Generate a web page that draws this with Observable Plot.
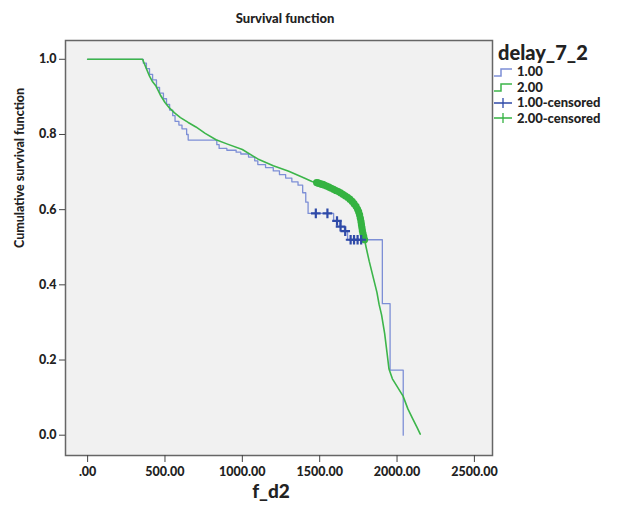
<!DOCTYPE html>
<html><head><meta charset="utf-8">
<script src="https://cdn.jsdelivr.net/npm/d3@7"></script>
<script src="https://cdn.jsdelivr.net/npm/@observablehq/plot@0.6"></script>
<style>
body{margin:0;background:#fff;font-family:Lato,sans-serif}
#wrap{position:relative;width:620px;height:512px}
#title{position:absolute;top:10px;left:0;width:570px;text-align:center;font-weight:900;font-size:13px;color:#222}
#legend{position:absolute;left:493px;top:40px;color:#222;font-weight:900}
#legend .head{font-size:20px;line-height:24px;margin-left:5px}
#legend .row{font-size:13px;line-height:15.5px;display:flex;align-items:center}
#legend svg{margin-right:4px}
#chart{position:absolute;left:0;top:0}
</style></head><body>
<div id="wrap"><div id="chart"></div><div id="title">Survival function</div><div id="legend"></div></div>
<script>
// ---- data ----
const xTicks = [0, 500, 1000, 1500, 2000, 2500];
const yTicks = [0, 0.2, 0.4, 0.6, 0.8, 1.0];
const groupNames = ["1.00", "2.00", "1.00-censored", "2.00-censored"];

const blueTimes = [0, 360, 380, 400, 420, 445, 465, 490, 510, 530, 550, 565, 590, 610, 640, 650, 835, 850, 900, 960, 990, 1040, 1080, 1100, 1150, 1200, 1240, 1280, 1320, 1360, 1390, 1410, 1425, 1590, 1630, 1660, 1680, 1905, 1955, 2040];
const blueSurv  = [1.0, 0.99, 0.975, 0.96, 0.945, 0.925, 0.91, 0.895, 0.88, 0.865, 0.85, 0.835, 0.825, 0.815, 0.80, 0.785, 0.773, 0.763, 0.758, 0.753, 0.748, 0.74, 0.73, 0.72, 0.712, 0.703, 0.693, 0.684, 0.674, 0.665, 0.645, 0.62, 0.59, 0.57, 0.555, 0.543, 0.52, 0.35, 0.173, 0.0];

const greenTimes = [0, 355, 380, 400, 420, 443, 470, 500, 530, 560, 600, 650, 700, 760, 830, 900, 1000, 1100, 1200, 1300, 1400, 1450, 1480, 1500, 1550, 1600, 1650, 1700, 1735, 1755, 1767, 1776, 1790, 1800, 1820, 1852, 1870, 1884, 1900, 1920, 1935, 1948, 1970, 2000, 2039, 2070, 2100, 2130, 2150];
const greenSurv  = [1.0, 1.0, 0.975, 0.955, 0.94, 0.928, 0.905, 0.885, 0.87, 0.858, 0.845, 0.832, 0.82, 0.803, 0.786, 0.775, 0.76, 0.735, 0.717, 0.702, 0.684, 0.675, 0.672, 0.669, 0.662, 0.652, 0.641, 0.626, 0.609, 0.59, 0.568, 0.544, 0.52, 0.5, 0.463, 0.41, 0.38, 0.348, 0.32, 0.27, 0.22, 0.176, 0.15, 0.13, 0.104, 0.07, 0.045, 0.02, 0.003];

const blueCensTimes = [1475, 1550, 1612, 1635, 1665, 1700, 1722, 1745, 1768];
const blueCensSurv  = [0.59, 0.59, 0.57, 0.555, 0.543, 0.52, 0.52, 0.52, 0.52];

const greenCensTimes = [1480, 1490, 1500, 1510, 1520, 1530, 1545, 1560, 1575, 1590, 1605, 1620, 1635, 1650, 1665, 1680, 1695, 1710, 1722, 1735, 1745, 1752, 1758, 1763, 1767, 1770, 1773, 1776, 1780, 1785, 1790];
const greenCensSurv  = [0.672, 0.671, 0.669, 0.668, 0.667, 0.665, 0.663, 0.660, 0.657, 0.654, 0.651, 0.648, 0.645, 0.641, 0.637, 0.633, 0.628, 0.622, 0.616, 0.609, 0.601, 0.594, 0.586, 0.577, 0.568, 0.56, 0.552, 0.544, 0.536, 0.528, 0.52];

// ---- styles ----
const blueLine = "#7d8fd6", greenLine = "#3cb54a", blueMark = "#2f4aa8", greenMark = "#35b342";

const blue = blueTimes.map((t, i) => ({t, s: blueSurv[i]}));
const green = greenTimes.map((t, i) => ({t, s: greenSurv[i]}));
const blueCens = blueCensTimes.map((t, i) => ({t, s: blueCensSurv[i]}));
const greenCens = greenCensTimes.map((t, i) => ({t, s: greenCensSurv[i]}));

const plot = Plot.plot({
  width: 620, height: 512,
  marginLeft: 65, marginRight: 128, marginTop: 40, marginBottom: 57,
  style: {fontFamily: "Lato, sans-serif", fontSize: "12.5px", fontWeight: "900", color: "#222", background: "transparent"},
  x: {domain: [-143, 2617]},
  y: {domain: [-0.054, 1.05]},
  marks: [
    Plot.frame({fill: "#f1f1f1", stroke: "#666", strokeWidth: 1.5}),
    Plot.axisY({ticks: yTicks, tickFormat: d => d.toFixed(1), tickSize: 6, tickPadding: 3, label: null, stroke: "#444"}),
    Plot.axisX({ticks: xTicks, tickFormat: d => d === 0 ? ".00" : d.toFixed(2), tickSize: 7, tickPadding: 5, label: null, stroke: "#444"}),
    Plot.line(blue, {x: "t", y: "s", curve: "step-after", stroke: blueLine, strokeWidth: 1.3}),
    Plot.line(green, {x: "t", y: "s", stroke: greenLine, strokeWidth: 1.6}),
    Plot.dot(greenCens, {x: "t", y: "s", r: 3.6, fill: greenMark}),
    Plot.dot(blueCens, {x: "t", y: "s", symbol: "plus", r: 3.2, stroke: blueMark, strokeWidth: 2.2}),
    Plot.text(["Cumulative survival function"], {frameAnchor: "left", dx: -46, rotate: -90, fontSize: 12.5}),
    Plot.text(["f_d2"], {frameAnchor: "bottom", dy: 42, dx: -8, fontSize: 19})
  ]
});
document.getElementById("chart").appendChild(plot);

// legend
const lg = document.getElementById("legend");
const colors = [blueLine, greenLine, blueMark, greenMark];
let html = `<div class="head">delay_7_2</div>`;
groupNames.forEach((name, i) => {
  const icon = i < 2
    ? `<svg width="20" height="12"><path d="M1,10H8V3H19" fill="none" stroke="${colors[i]}" stroke-width="1.5"/></svg>`
    : `<svg width="20" height="12"><path d="M1,6H19M10,1V11" fill="none" stroke="${colors[i]}" stroke-width="1.3"/></svg>`;
  html += `<div class="row">${icon}<span>${name}</span></div>`;
});
lg.innerHTML = html;
</script>
</body></html>
